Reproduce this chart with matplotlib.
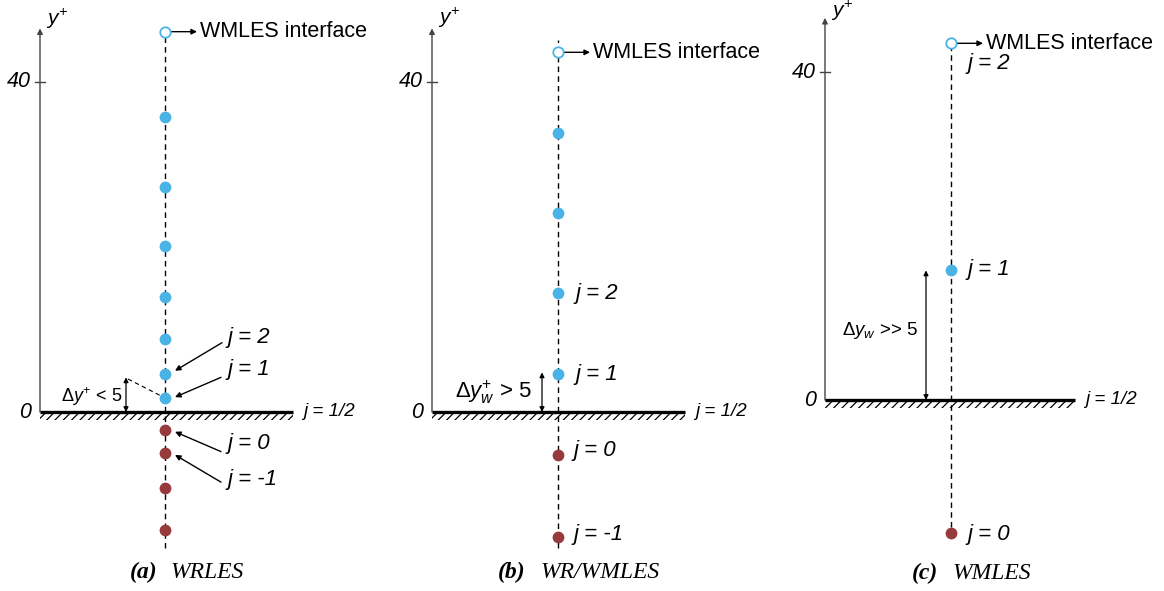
import matplotlib.pyplot as plt
from matplotlib.patches import Rectangle

plt.rcParams['font.family'] = ['Liberation Sans', 'DejaVu Sans']
plt.rcParams['mathtext.fontset'] = 'custom'
plt.rcParams['mathtext.rm'] = 'Liberation Sans'
plt.rcParams['mathtext.it'] = 'Liberation Sans:italic'
plt.rcParams['hatch.linewidth'] = 0.9

# y+ of cell centres (fluid above the wall, ghost below) and WMLES interface
wrles_fluid = [1.7, 4.6, 8.8, 13.9, 20.1, 27.3, 35.8]
wrles_ghost = [-2.2, -5.0, -9.2, -14.3]
wrles_interface = 46.1

wrwm_fluid = [4.6, 14.4, 24.1, 33.8]
wrwm_ghost = [-5.2, -15.2]
wrwm_interface = 43.6

wmles_fluid = [15.9]
wmles_ghost = [-16.2]
wmles_interface = 43.5

BLUE = '#4ab3e6'
RED = '#973a3d'
AXC = '#444444'


def make_axes(fig, wall_px, scale):
    ax = fig.add_axes([0, 0, 1, 1])
    ax.set_xlim(0, 1164)
    ax.set_ylim((wall_px - 591) / scale, wall_px / scale)
    ax.axis('off')
    return ax


def draw_frame(ax, xa, xc, xe, ytop, ylab, dash_top, dash_bot, interface, fluid, ghost):
    # y axis
    ax.annotate('', xy=(xa, ytop), xytext=(xa, 0),
                arrowprops=dict(arrowstyle='-|>', color=AXC, lw=1.0, mutation_scale=8,
                                shrinkA=0, shrinkB=0))
    ax.plot([xa - 5, xa + 5], [40, 40], color=AXC, lw=1.0)
    ax.text(xa - 9, 40, '40', ha='right', va='center', style='italic', fontsize=15.5)
    ax.text(xa - 9, 0, '0', ha='right', va='center', style='italic', fontsize=15.5)
    ax.text(xa + 6, ylab, r'$y^{+}$', ha='left', va='center', fontsize=15)

    # wall
    ax.plot([xa, xe], [0, 0], color='black', lw=2.4, solid_capstyle='butt', zorder=3)
    ax.add_patch(Rectangle((xa, -1.0), xe - xa, 1.0, fill=False, hatch='////',
                           edgecolor='black', lw=0))
    ax.text(xe + 10, 0, 'j = 1/2', style='italic', fontsize=13.5, ha='left', va='center')

    # grid column
    ax.plot([xc, xc], [dash_bot, dash_top], color='black', lw=1.0, ls=(0, (4, 3)), zorder=1)
    ax.scatter([xc] * len(fluid), fluid, s=72, color=BLUE, zorder=4, linewidths=0)
    ax.scatter([xc] * len(ghost), ghost, s=72, color=RED, zorder=4, linewidths=0)
    ax.plot([xc], [interface], 'o', mfc='white', mec=BLUE, ms=7.5, mew=1.3, zorder=4)
    ax.annotate('', xy=(xc + 32, interface), xytext=(xc + 5, interface),
                arrowprops=dict(arrowstyle='-|>', color='black', lw=1.0, mutation_scale=8,
                                shrinkA=0, shrinkB=0))
    ax.text(xc + 35, interface, 'WMLES interface', fontsize=15.5, ha='left', va='center')


def dim_arrow(ax, x, y0, y1):
    ax.annotate('', xy=(x, y1), xytext=(x, y0),
                arrowprops=dict(arrowstyle='<|-|>', color='black', lw=0.9, mutation_scale=7,
                                shrinkA=0, shrinkB=0))


def pointer(ax, x0, y0, x1, y1):
    ax.annotate('', xy=(x1, y1), xytext=(x0, y0),
                arrowprops=dict(arrowstyle='-|>', color='black', lw=1.0, mutation_scale=8,
                                shrinkA=0, shrinkB=0))


def caption(ax, x0, x1, y, tag, name):
    ax.text(x0, y, tag, family='Liberation Serif', weight='bold', style='italic',
            fontsize=17, ha='left', va='center')
    ax.text(x1, y, name, family='Liberation Serif', style='italic',
            fontsize=17, ha='left', va='center')


def main():
    fig = plt.figure(figsize=(11.64, 5.91), dpi=100)

    # (a) WRLES
    ax = make_axes(fig, 412, 8.25)
    draw_frame(ax, 40, 165, 293, 46.5, 47.6, wrles_interface, -16.5, wrles_interface,
               wrles_fluid, wrles_ghost)
    ax.text(227, 9.0, 'j = 2', style='italic', fontsize=16, ha='left', va='center')
    ax.text(227, 5.1, 'j = 1', style='italic', fontsize=16, ha='left', va='center')
    ax.text(227, -3.8, 'j = 0', style='italic', fontsize=16, ha='left', va='center')
    ax.text(227, -8.2, 'j = -1', style='italic', fontsize=16, ha='left', va='center')
    pointer(ax, 222, 8.4, 175, wrles_fluid[1] + 0.4)
    pointer(ax, 221, 4.2, 175, wrles_fluid[0] + 0.1)
    pointer(ax, 221, -4.8, 175, wrles_ghost[0] - 0.2)
    pointer(ax, 221, -8.5, 175, wrles_ghost[1] - 0.2)
    dim_arrow(ax, 126, 0, 4.2)
    ax.plot([128, 165], [4.0, wrles_fluid[0]], color='black', lw=0.8, ls=(0, (4, 3)))
    ax.text(122, 1.9, r'$\Delta y^{+}$ < 5', fontsize=13, ha='right', va='center')
    caption(ax, 130, 170, -19.5, '(a)', 'WRLES')

    # (b) WR/WMLES
    ax = make_axes(fig, 412, 8.25)
    draw_frame(ax, 432, 558, 685, 46.5, 47.8, 45.1, -16.5, wrwm_interface,
               wrwm_fluid, wrwm_ghost)
    ax.text(575, wrwm_fluid[1], 'j = 2', style='italic', fontsize=16, ha='left', va='center')
    ax.text(575, wrwm_fluid[0], 'j = 1', style='italic', fontsize=16, ha='left', va='center')
    ax.text(573, wrwm_ghost[0] + 0.5, 'j = 0', style='italic', fontsize=16, ha='left', va='center')
    ax.text(573, wrwm_ghost[1] + 0.3, 'j = -1', style='italic', fontsize=16, ha='left', va='center')
    dim_arrow(ax, 542, 0, 4.8)
    ax.text(532, 2.4, r'$\Delta y_{w}^{+}$ > 5', fontsize=16, ha='right', va='center')
    caption(ax, 498, 540, -19.5, '(b)', 'WR/WMLES')

    # (c) WMLES
    ax = make_axes(fig, 400, 8.2)
    draw_frame(ax, 825, 951, 1075, 46.6, 47.4, wmles_interface, -15.5, wmles_interface,
               wmles_fluid, wmles_ghost)
    ax.text(967, 41.0, 'j = 2', style='italic', fontsize=16, ha='left', va='center')
    ax.text(967, wmles_fluid[0], 'j = 1', style='italic', fontsize=16, ha='left', va='center')
    ax.text(967, wmles_ghost[0] - 0.2, 'j = 0', style='italic', fontsize=16, ha='left', va='center')
    dim_arrow(ax, 926, 0, 15.8)
    ax.text(918, 8.5, r'$\Delta y_{w}$ >> 5', fontsize=13.5, ha='right', va='center')
    caption(ax, 912, 952, -21.1, '(c)', 'WMLES')

    fig.savefig('out.png', dpi=100)


if __name__ == "__main__":
    main()
